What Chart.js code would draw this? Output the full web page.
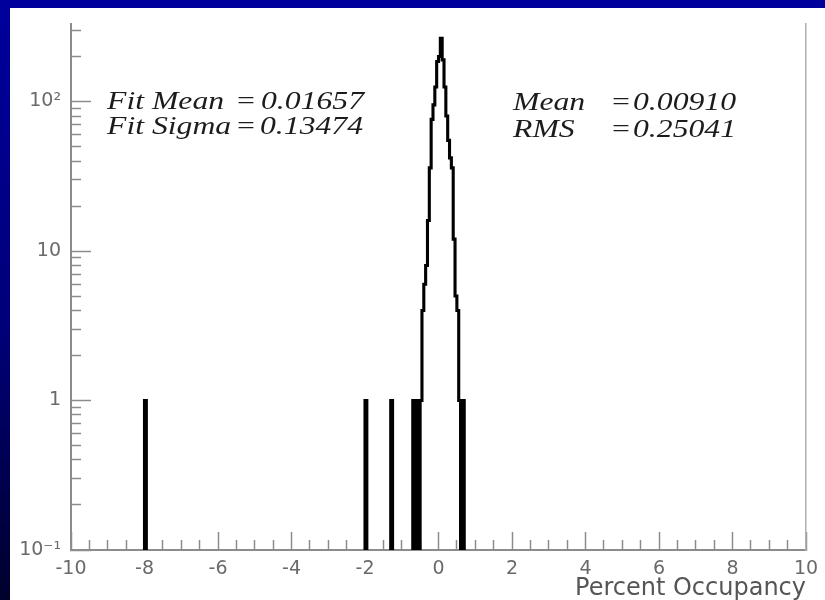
<!DOCTYPE html>
<html><head><meta charset="utf-8">
<script src="https://cdn.jsdelivr.net/npm/chart.js@4/dist/chart.umd.min.js"></script>
<style>
html,body{margin:0;padding:0;width:825px;height:600px;overflow:hidden;}
body{background:linear-gradient(to bottom,#00009c 0%,#000078 55%,#00002c 100%);position:relative;}
#panel{position:absolute;left:10px;top:8px;width:815px;height:592px;background:#fff;}
#panel canvas{position:absolute;left:0;top:0;}
.st{position:absolute;font-family:"Liberation Serif","Times New Roman",serif;font-style:italic;font-size:26px;line-height:26px;color:#1c1c1c;transform-origin:0 0;transform:scaleX(1.22);white-space:pre;}
</style></head>
<body>
<div id="panel"><canvas id="c" width="815" height="592"></canvas></div>
<script>
// ---- data ----
const binWidth = 0.05;
const binLowEdges = [-8.00, -2.00, -1.30,
  -0.70, -0.65, -0.60, -0.55, -0.50, -0.45, -0.40, -0.35, -0.30, -0.25, -0.20, -0.15, -0.10, -0.05,
   0.00,  0.05,  0.10,  0.15,  0.20,  0.25,  0.30,  0.35,  0.40,  0.45,  0.50,  0.55,  0.60,  0.65];
const binCounts = [1, 1, 1,
   1, 0, 1, 0, 1, 4, 6, 8, 16, 36, 76, 95, 125, 185,
   200, 265, 190, 125, 80, 55, 42, 36, 12, 5, 4, 1, 0, 1];
const xMajorTicks = [-10, -8, -6, -4, -2, 0, 2, 4, 6, 8, 10];
const xTickLabels = ["-10", "-8", "-6", "-4", "-2", "0", "2", "4", "6", "8", "10"];
const xMinorTicks = [-9.5,-9,-8.5,-7.5,-7,-6.5,-5.5,-5,-4.5,-3.5,-3,-2.5,-1.5,-1,-0.5,0.5,1,1.5,2.5,3,3.5,4.5,5,5.5,6.5,7,7.5,8.5,9,9.5];
const yMajorTicks = [0.1, 1, 10, 100];
const yTickLabels = ["10\u207B\u00B9", "1", "10", "10\u00B2"];
const yMinorTicks = [0.2,0.3,0.4,0.5,0.6,0.7,0.8,0.9,2,3,4,5,6,7,8,9,20,30,40,50,60,70,80,90,200,300];
const xTitle = "Percent Occupancy";
const statLabels = ["Fit Mean", "Fit Sigma", "Mean", "RMS"];
const statValues = ["0.01657", "0.13474", "0.00910", "0.25041"];

const yMin = 0.1, yMax = 330;

// histogram outline built from the bins (empty bins sit on the axis floor)
function outline() {
  const pts = [];
  let prevHigh = null;
  binLowEdges.forEach((lo, i) => {
    const hi = lo + binWidth;
    const v = binCounts[i] > 0 ? binCounts[i] : yMin;
    const contiguous = prevHigh !== null && Math.abs(lo - prevHigh) < 1e-6;
    if (!contiguous) {
      if (prevHigh !== null) { pts.push({x: prevHigh, y: yMin}); pts.push({x: prevHigh, y: null}); }
      pts.push({x: lo, y: yMin});
    }
    pts.push({x: lo, y: v});
    pts.push({x: hi, y: v});
    prevHigh = hi;
  });
  pts.push({x: prevHigh, y: yMin});
  return pts;
}

// stats text
const statPos = [
  {l: 107, e: 235, v: 261, b: 110},
  {l: 107, e: 235, v: 260, b: 135},
  {l: 513, e: 610, v: 633, b: 111},
  {l: 513, e: 610, v: 633, b: 138}
];
statLabels.forEach((lab, i) => {
  const p = statPos[i];
  [[lab, p.l], ["=", p.e], [statValues[i], p.v]].forEach(([t, x]) => {
    const s = document.createElement('span');
    s.className = 'st'; s.textContent = t;
    s.style.left = x + 'px'; s.style.top = (p.b - 22) + 'px';
    document.body.appendChild(s);
  });
});

const axisGray = '#8c8c8c';
const labelFont = {family: 'DejaVu Sans', size: 19};
const noPad = s => { s.paddingLeft = 0; s.paddingRight = 0; s.paddingTop = 0; s.paddingBottom = 0; };

new Chart(document.getElementById('c'), {
  type: 'line',
  data: {datasets: [{
    data: outline(),
    borderColor: '#000', borderWidth: 3.1, pointRadius: 0, fill: false,
    tension: 0, spanGaps: false, xAxisID: 'x', yAxisID: 'y'
  }]},
  options: {
    responsive: false, animation: false, devicePixelRatio: 1,
    layout: {padding: {top: 16, right: 19, left: 0, bottom: 0}},
    plugins: {legend: {display: false}, tooltip: {enabled: false}},
    scales: {
      x: {
        type: 'linear', position: 'bottom', min: -10, max: 10, weight: 1,
        afterBuildTicks: s => { s.ticks = xMajorTicks.map(v => ({value: v})); },
        afterFit: s => { s.height = 50; noPad(s); },
        grid: {drawOnChartArea: false, tickLength: -18, tickColor: axisGray, tickWidth: 1.5},
        border: {color: axisGray, width: 2},
        ticks: {padding: 26, color: '#6a6a6a', font: labelFont, maxRotation: 0, autoSkip: false,
                callback: (v, i) => xTickLabels[i]},
        title: {display: true, text: xTitle, align: 'end', color: '#555',
                font: {family: 'DejaVu Sans', size: 24, lineHeight: 0.9}, padding: 0}
      },
      xMinor: {
        type: 'linear', position: 'bottom', min: -10, max: 10, weight: 0,
        afterBuildTicks: s => { s.ticks = xMinorTicks.map(v => ({value: v})); },
        afterFit: s => { s.height = 0; noPad(s); },
        grid: {drawOnChartArea: false, tickLength: -10, tickColor: axisGray, tickWidth: 1.5},
        border: {display: false},
        ticks: {display: false}
      },
      y: {
        type: 'logarithmic', position: 'left', min: yMin, max: yMax, weight: 1,
        afterBuildTicks: s => { s.ticks = yMajorTicks.map(v => ({value: v})); },
        afterFit: s => { s.width = 61; noPad(s); },
        grid: {drawOnChartArea: false, tickLength: -20, tickColor: axisGray, tickWidth: 1.5},
        border: {color: axisGray, width: 2},
        ticks: {padding: 30, color: '#6a6a6a', font: labelFont, autoSkip: false,
                callback: (v, i) => yTickLabels[i]}
      },
      yMinor: {
        type: 'logarithmic', position: 'left', min: yMin, max: yMax, weight: 0,
        afterBuildTicks: s => { s.ticks = yMinorTicks.map(v => ({value: v})); },
        afterFit: s => { s.width = 0; noPad(s); },
        grid: {drawOnChartArea: false, tickLength: -10, tickColor: axisGray, tickWidth: 1.5},
        border: {display: false},
        ticks: {display: false}
      },
      yRight: {
        type: 'linear', position: 'right', min: 0, max: 1,
        afterFit: s => { s.width = 0; noPad(s); },
        grid: {display: false, drawOnChartArea: false, drawTicks: false},
        border: {color: '#b0b0b0', width: 1.5},
        ticks: {display: false}
      }
    }
  }
});
</script>
</body></html>
